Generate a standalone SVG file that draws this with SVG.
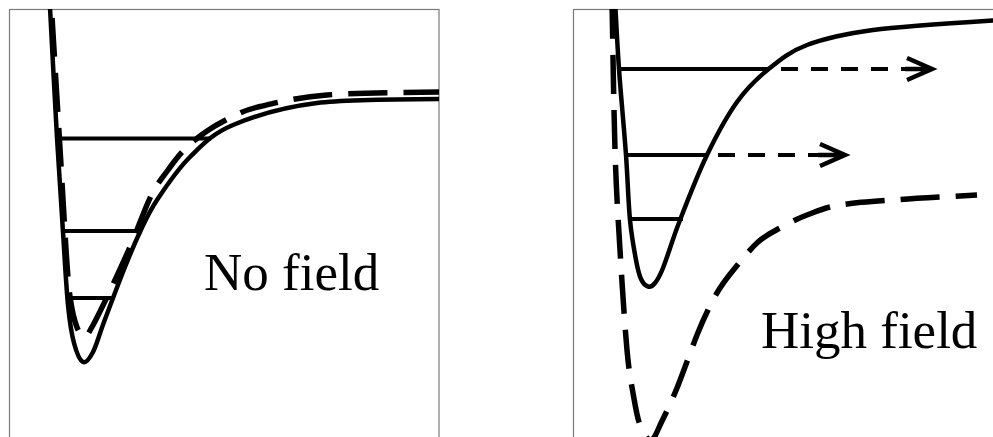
<svg xmlns="http://www.w3.org/2000/svg" width="993" height="437" viewBox="0 0 993 437">
<style>
.frame{fill:none;stroke:#7a7a7a;stroke-width:1.2}
.solid{fill:none;stroke:#000;stroke-width:4.5;stroke-linejoin:round}
.dash{fill:none;stroke:#000;stroke-width:5.5;stroke-dasharray:39 16}
.lvl{fill:none;stroke:#000;stroke-width:4}
.esc{fill:none;stroke:#000;stroke-width:4;stroke-dasharray:17 13}
.head{fill:none;stroke:#000;stroke-width:4.5;stroke-linejoin:miter}
.lbl{font-family:"Liberation Serif","Times New Roman",serif;font-size:53px;fill:#000}
</style>
<rect width="993" height="437" fill="#fff"/>
<defs>
<clipPath id="cl"><rect x="9" y="9" width="430" height="440"/></clipPath>
<clipPath id="cr"><rect x="573" y="9" width="430" height="440"/></clipPath>
</defs>
<g id="panel-left">
<rect class="frame" x="9.5" y="9.5" width="429.5" height="440"/>
<g clip-path="url(#cl)">
<path class="dash" stroke-dashoffset="37" d="M51,0 C52.4,23.3 56.9,97.2 59.5,140 C62.1,182.8 64.7,230.3 66.5,257 C68.3,283.7 68.8,288.5 70.5,300 C72.2,311.5 74.25,319.8 76.5,326 C78.75,332.2 81.4,336.8 84,337 C86.6,337.2 88,334 92,327 C96,320 101.7,308.3 108,295 C114.3,281.7 122.8,263.5 130,247 C137.2,230.5 144.7,208.8 151,196 C157.3,183.2 162.3,177.8 168,170 C173.7,162.2 178.5,155.5 185,149 C191.5,142.5 199,136.4 207,131 C215,125.6 224.2,120.6 233,116.5 C241.8,112.4 244.3,110.1 260,106.5 C275.7,102.9 297,97.4 327,95 C357,92.6 421.2,92.5 445,92"/>
<path class="solid" d="M49.6,0 C50.8,23 54.8,99.3 57,138 C59.2,176.7 61.2,204.2 63,232 C64.8,259.8 66.2,286.5 68,305 C69.8,323.5 71.5,333.5 74,343 C76.5,352.5 79.8,360.5 83,362 C86.2,363.5 89.5,358.7 93,352 C96.5,345.3 98.7,336.2 104,322 C109.3,307.8 119,282 125,267 C131,252 134.7,243.2 140,232 C145.3,220.8 148.7,212.5 157,200 C165.3,187.5 177.3,169.5 190,157 C202.7,144.5 211.8,134 233,125 C254.2,116 282.5,107.3 317,103 C340,100.1 400,99.2 445,99"/>
</g>
<line class="lvl" x1="58" y1="138.5" x2="211" y2="138.5"/>
<line class="lvl" x1="63" y1="231" x2="141.5" y2="231"/>
<line class="lvl" x1="69" y1="298" x2="113" y2="298"/>
<text class="lbl" x="204" y="290">No field</text>
</g>
<g id="panel-right">
<rect class="frame" x="573.5" y="9.5" width="430" height="440"/>
<g clip-path="url(#cr)">
<path class="dash" d="M612,0 C612.5,25 613.7,108.3 615,150 C616.3,191.7 618,216.7 620,250 C622,283.3 624.8,326.2 627,350 C629.2,373.8 630.8,380.5 633,393 C635.2,405.5 637,417.2 640,425 C643,432.8 647.3,440.7 651,440 C654.7,439.3 657.7,429.7 662,421 C666.3,412.3 671.2,402.3 677,388 C682.8,373.7 691.8,348 697,335 C702.2,322 704.2,317.8 708,310 C711.8,302.2 715.5,295 720,288 C724.5,281 728.7,275.7 735,268 C741.3,260.3 750.5,248.7 758,242 C765.5,235.3 771.8,232.5 780,228 C788.2,223.5 797,218.8 807,215 C817,211.2 824.5,207.6 840,205 C855.5,202.4 877.2,201.2 900,199.5 C922.8,197.8 964.2,195.75 977,195"/>
<path class="solid" d="M615,0 C615.7,11.5 617.2,43.2 619,69 C620.8,94.8 624.2,129.8 626,155 C627.8,180.2 628.3,202.5 630,220 C631.7,237.5 634.2,250.2 636,260 C637.8,269.8 639,274.6 641,279 C643,283.4 645.7,285.8 648,286.5 C650.3,287.2 652.5,286.1 655,283 C657.5,279.9 658.8,278.5 663,268 C667.2,257.5 672.7,238.8 680,220 C687.3,201.2 697.5,174.7 707,155 C716.5,135.3 726.8,116.3 737,102 C747.2,87.75 756.3,79 768,69.5 C779.7,60 789.5,51.6 807,45 C824.5,38.4 842,34.2 873,30 C904,25.8 973,21.7 1000,20"/>
</g>
</g>
<g id="connectors">
<line class="lvl" x1="621" y1="69" x2="768" y2="69"/>
<line class="esc" x1="781" y1="69" x2="918" y2="69"/>
<path class="head" d="M905,69 L930,69 M907,58 L932,69 L907,80"/>
<line class="lvl" x1="626" y1="155" x2="708" y2="155"/>
<line class="esc" x1="718" y1="155" x2="821" y2="155"/>
<path class="head" d="M818,155 L843,155 M820,144 L845,155 L820,166"/>
<line class="lvl" x1="631" y1="219" x2="683" y2="219"/>
</g>
<text class="lbl" x="761" y="348">High field</text>
</svg>
